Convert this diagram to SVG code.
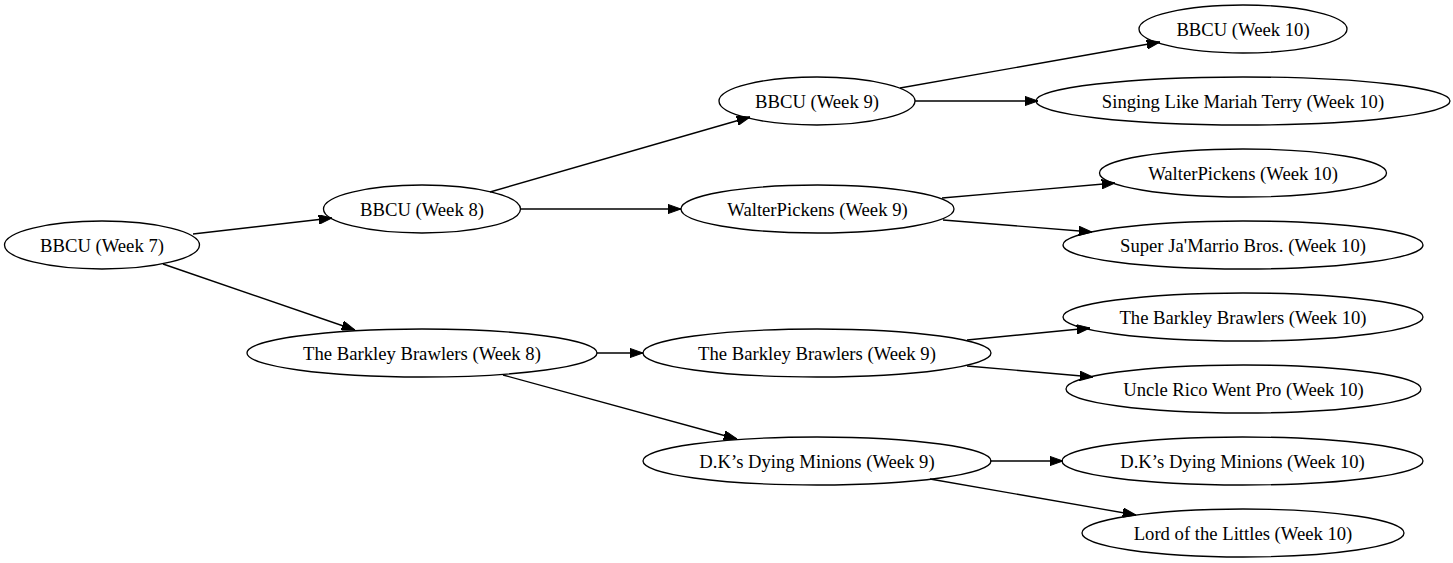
<svg xmlns="http://www.w3.org/2000/svg" width="1453" height="563" viewBox="0 0 1453 563">
<style>
.n ellipse{fill:none;stroke:#000;stroke-width:1.33}
.n text{font-family:"Liberation Serif","Times New Roman",serif;font-size:18.67px;text-anchor:middle;fill:#000}
#edges line{stroke:#000;stroke-width:1.33;marker-end:url(#ah)}
</style>
<defs>
<marker id="ah" markerUnits="userSpaceOnUse" viewBox="0 0 13.3 9.4" markerWidth="13.3" markerHeight="9.4" refX="13.3" refY="4.7" orient="auto">
<path d="M0,0 L13.3,4.7 L0,9.4 z" fill="#000" stroke="#000" stroke-width="1"/>
</marker>
</defs>
<rect width="1453" height="563" fill="#fff"/>
<g id="edges">
<line x1="193" y1="234" x2="332" y2="218"/>
<line x1="163" y1="264" x2="355" y2="330"/>
<line x1="490" y1="192" x2="750" y2="117"/>
<line x1="521" y1="209" x2="681" y2="209"/>
<line x1="597" y1="353" x2="643" y2="353"/>
<line x1="503" y1="375" x2="737" y2="439"/>
<line x1="900" y1="88" x2="1160" y2="42"/>
<line x1="915" y1="101" x2="1038" y2="101"/>
<line x1="942" y1="198" x2="1115" y2="183"/>
<line x1="943" y1="220" x2="1092" y2="232"/>
<line x1="967" y1="340" x2="1090" y2="328"/>
<line x1="967" y1="366" x2="1093" y2="377"/>
<line x1="990" y1="461" x2="1063" y2="461"/>
<line x1="930" y1="479" x2="1136" y2="515"/>
</g>
<g id="bbcu7" class="n"><ellipse cx="102" cy="245" rx="97.5" ry="24"/><text x="102" y="252">BBCU (Week 7)</text></g>
<g id="bbcu8" class="n"><ellipse cx="422" cy="209" rx="98.5" ry="24"/><text x="422" y="216">BBCU (Week 8)</text></g>
<g id="bb8" class="n"><ellipse cx="422" cy="353" rx="175" ry="24"/><text x="422" y="360">The Barkley Brawlers (Week 8)</text></g>
<g id="bbcu9" class="n"><ellipse cx="817" cy="101" rx="98" ry="24"/><text x="817" y="108">BBCU (Week 9)</text></g>
<g id="wp9" class="n"><ellipse cx="817.5" cy="209" rx="136.5" ry="24"/><text x="817.5" y="216">WalterPickens (Week 9)</text></g>
<g id="bb9" class="n"><ellipse cx="817" cy="353" rx="174" ry="24"/><text x="817" y="360">The Barkley Brawlers (Week 9)</text></g>
<g id="dk9" class="n"><ellipse cx="817" cy="461" rx="174" ry="24"/><text x="817" y="468">D.K’s Dying Minions (Week 9)</text></g>
<g id="bbcu10" class="n"><ellipse cx="1243" cy="29" rx="104" ry="24"/><text x="1243" y="36">BBCU (Week 10)</text></g>
<g id="slmt10" class="n"><ellipse cx="1243" cy="101" rx="207" ry="24"/><text x="1243" y="108">Singing Like Mariah Terry (Week 10)</text></g>
<g id="wp10" class="n"><ellipse cx="1243" cy="173" rx="143.5" ry="24"/><text x="1243" y="180">WalterPickens (Week 10)</text></g>
<g id="sjb10" class="n"><ellipse cx="1243" cy="245" rx="180" ry="24"/><text x="1243" y="252">Super Ja'Marrio Bros. (Week 10)</text></g>
<g id="bb10" class="n"><ellipse cx="1243" cy="317" rx="180" ry="24"/><text x="1243" y="324">The Barkley Brawlers (Week 10)</text></g>
<g id="urwp10" class="n"><ellipse cx="1243.5" cy="389" rx="177.5" ry="24"/><text x="1243.5" y="396">Uncle Rico Went Pro (Week 10)</text></g>
<g id="dk10" class="n"><ellipse cx="1242.5" cy="461" rx="180.5" ry="24"/><text x="1242.5" y="468">D.K’s Dying Minions (Week 10)</text></g>
<g id="lotl10" class="n"><ellipse cx="1243" cy="533" rx="161" ry="24"/><text x="1243" y="540">Lord of the Littles (Week 10)</text></g>
</svg>
